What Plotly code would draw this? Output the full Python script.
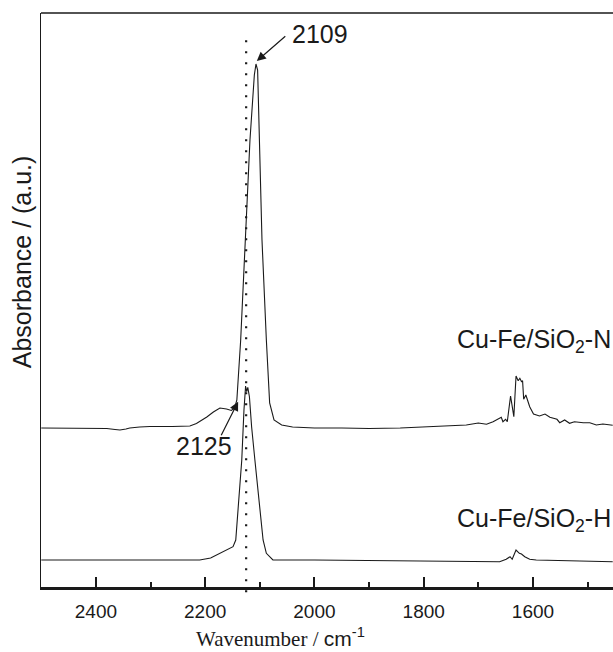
import plotly.graph_objects as go

# ---- data (arbitrary absorbance units, offset spectra) ----
wn_N = [2500, 2450, 2400, 2380, 2365, 2356, 2345, 2338, 2320, 2301, 2260, 2228, 2216, 2197,
        2185, 2173, 2161, 2152, 2146, 2142, 2135, 2127, 2118, 2110, 2107, 2104, 2101, 2096,
        2088, 2082, 2074, 2060, 2040, 2000, 1950, 1900, 1843, 1800, 1771, 1740, 1722, 1700,
        1685, 1673, 1658, 1655, 1650, 1647, 1641, 1635, 1631, 1627, 1624, 1621, 1619, 1617,
        1613, 1606, 1599, 1588, 1578, 1569, 1556, 1551, 1542, 1533, 1524, 1508, 1496, 1484,
        1472, 1454]
abs_N = [1.59, 1.59, 1.59, 1.585, 1.575, 1.57, 1.58, 1.59, 1.60, 1.605, 1.605, 1.61, 1.635, 1.70,
         1.75, 1.79, 1.78, 1.765, 1.79, 1.87, 2.47, 3.47, 4.47, 5.12, 5.23, 5.17, 4.47, 3.47,
         2.47, 1.84, 1.67, 1.62, 1.60, 1.59, 1.59, 1.585, 1.59, 1.60, 1.61, 1.615, 1.62, 1.64,
         1.627, 1.653, 1.697, 1.653, 1.677, 1.653, 1.91, 1.703, 2.11, 2.063, 2.087, 2.053, 2.063, 1.877,
         1.92, 1.803, 1.73, 1.71, 1.73, 1.697, 1.677, 1.643, 1.67, 1.637, 1.653, 1.643, 1.643, 1.62,
         1.63, 1.617]

wn_H = [2500, 2300, 2210, 2190, 2173, 2160, 2149, 2144, 2140, 2133, 2129, 2126, 2124, 2122,
        2119, 2115, 2109, 2101, 2094, 2088, 2076, 2000, 1716, 1661, 1649, 1642, 1638, 1631,
        1625, 1621, 1615, 1606, 1594, 1533, 1454]
abs_H = [0.27, 0.27, 0.27, 0.29, 0.337, 0.37, 0.403, 0.47, 0.77, 1.27, 1.77, 2.01, 1.953, 1.997,
         1.903, 1.603, 1.27, 0.837, 0.47, 0.337, 0.27, 0.27, 0.253, 0.253, 0.277, 0.303, 0.277, 0.37,
         0.337, 0.33, 0.303, 0.277, 0.27, 0.263, 0.253]

x_range = [2500.5, 1453.5]
y_range = [0, 5.74]
ref_line = 2125

SANS = "Liberation Sans, Arial, sans-serif"
INK = "#1a1a1a"

fig = go.Figure()
fig.add_trace(go.Scatter(x=wn_N, y=abs_N, mode="lines", line=dict(color=INK, width=1.1),
                         name="Cu-Fe/SiO2-N", showlegend=False))
fig.add_trace(go.Scatter(x=wn_H, y=abs_H, mode="lines", line=dict(color=INK, width=1.1),
                         name="Cu-Fe/SiO2-H", showlegend=False))

# dotted reference line
fig.add_shape(type="line", xref="x", yref="paper", x0=ref_line, x1=ref_line, y0=-0.009, y1=0.953,
              line=dict(color=INK, width=2.2, dash="1.8px,9.2px"))
# top frame line
fig.add_shape(type="line", xref="paper", yref="paper", x0=0, x1=1, y0=1, y1=1,
              line=dict(color=INK, width=1.3))

# arrows
fig.add_annotation(x=2105.5, y=5.26, ax=2050.6, ay=5.52, xref="x", yref="y", axref="x", ayref="y",
                   text="", showarrow=True, arrowhead=2, arrowsize=1.5, arrowwidth=1.2, arrowcolor=INK)
fig.add_annotation(x=2139.7, y=1.853, ax=2172, ay=1.503, xref="x", yref="y", axref="x", ayref="y",
                   text="", showarrow=True, arrowhead=2, arrowsize=1.5, arrowwidth=1.2, arrowcolor=INK)

fig.add_annotation(x=1989, y=5.53, text="2109", showarrow=False, font=dict(family=SANS, size=25, color=INK))
fig.add_annotation(x=2201.5, y=1.41, text="2125", showarrow=False, font=dict(family=SANS, size=25, color=INK))

fig.add_annotation(x=1, xref="paper", y=2.46, xanchor="right", text="Cu-Fe/SiO<sub>2</sub>-N",
                   showarrow=False, font=dict(family=SANS, size=25, color=INK))
fig.add_annotation(x=1, xref="paper", y=0.67, xanchor="right", text="Cu-Fe/SiO<sub>2</sub>-H",
                   showarrow=False, font=dict(family=SANS, size=25, color=INK))

# axis titles
fig.add_annotation(xref="paper", yref="paper", x=0.418, y=-0.088, xanchor="center", yanchor="middle",
                   text='<span style="font-family:Liberation Serif">Wavenumber / </span>cm<sup>-1</sup>',
                   showarrow=False, font=dict(family=SANS, size=21, color=INK))
fig.add_annotation(xref="paper", yref="paper", x=-0.033, y=0.566, xanchor="center", yanchor="middle",
                   textangle=-90, text="Absorbance / (a.u.)", showarrow=False,
                   font=dict(family=SANS, size=25, color=INK))

fig.update_xaxes(range=x_range, showgrid=False, zeroline=False, showline=True, linecolor=INK,
                 linewidth=2.5, ticks="inside", ticklen=10, tickwidth=1.6, tickcolor=INK,
                 tickmode="linear", tick0=1600, dtick=200, ticklabelstandoff=5,
                 tickfont=dict(family=SANS, size=19, color=INK),
                 minor=dict(ticks="inside", ticklen=5, tickwidth=1.6, tickcolor=INK, dtick=100, tick0=1500))
fig.update_yaxes(range=y_range, showgrid=False, zeroline=False, showline=True, linecolor=INK,
                 linewidth=1.2, showticklabels=False, ticks="")

fig.update_layout(width=613, height=652, margin=dict(l=41, r=0, t=13, b=65),
                  plot_bgcolor="white", paper_bgcolor="white", showlegend=False)

fig.write_html("out.html")
